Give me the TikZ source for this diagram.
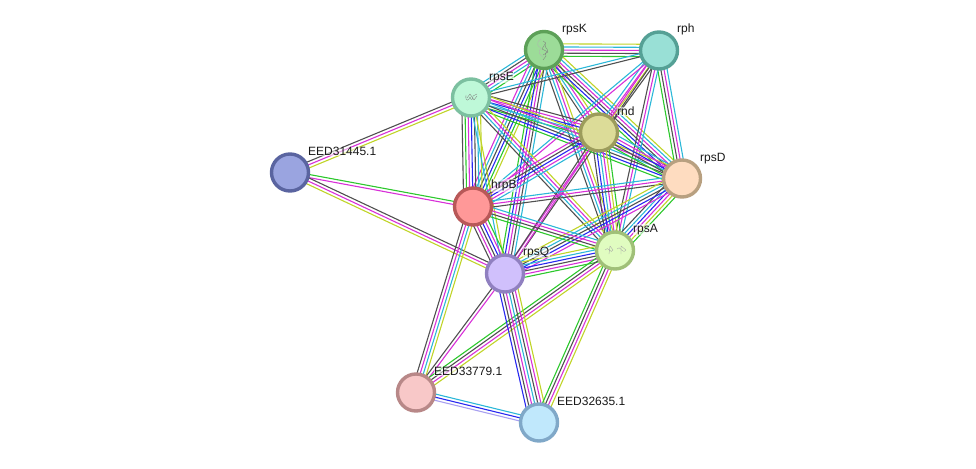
\documentclass[tikz,border=0pt]{standalone}
\usepackage{fontspec}
\setmainfont{Liberation Sans}
\usetikzlibrary{calc}
\pgfdeclarelayer{edges}
\pgfsetlayers{edges,main}
\definecolor{cG}{HTML}{2CC82C}
\definecolor{cC}{HTML}{2CB8D8}
\definecolor{cB}{HTML}{2828F0}
\definecolor{cM}{HTML}{D830D8}
\definecolor{cK}{HTML}{505050}
\definecolor{cY}{HTML}{C0D428}
\definecolor{cL}{HTML}{A8A0F0}
\tikzset{
  G/.style={draw=cG}, C/.style={draw=cC}, B/.style={draw=cB}, M/.style={draw=cM},
  K/.style={draw=cK}, Y/.style={draw=cY}, L/.style={draw=cL},
  prot/.style={circle,minimum size=37pt,inner sep=0pt,line width=3.4pt},
  lab/.style={anchor=west,font=\fontsize{12}{14}\selectfont,text=black!90,fill=white,fill opacity=.55,text opacity=1,inner sep=.5pt},
  fold/.style={draw=black!50,line width=.35pt,line join=round}
}
% A bundle of parallel evidence channels between two proteins;
% later channels lie to the left of the direction of travel
\newcommand{\bundle}[3]{%
  \def\nn{0}%
  \foreach \c in {#3}{\pgfmathtruncatemacro\tmpn{\nn+1}\global\let\nn\tmpn}%
  \foreach \c [count=\i] in {#3}{%
    \pgfmathsetmacro\off{(\i-(\nn+1)/2)*3.1}%
    \draw[\c,line width=1.1pt] ($(#1.center)!\off pt!90:(#2.center)$) -- ($(#2.center)!\off pt!-90:(#1.center)$);
  }%
}
\begin{document}
\begin{tikzpicture}[x=1pt,y=-1pt]
\useasboundingbox (0,0) rectangle (976,468);
% proteins
\node[prot,fill={rgb,255:red,156;green,220;blue,152},draw={rgb,255:red,93;green,160;blue,88}] (rpsK) at (544,50) {};
\node[prot,fill={rgb,255:red,153;green,224;blue,214},draw={rgb,255:red,85;green,160;blue,149}] (rph) at (659,50.5) {};
\node[prot,fill={rgb,255:red,190;green,248;blue,216},draw={rgb,255:red,124;green,192;blue,160}] (rpsE) at (471,97.5) {};
\node[prot,fill={rgb,255:red,220;green,220;blue,152},draw={rgb,255:red,156;green,156;blue,92}] (rnd) at (599,132.5) {};
\node[prot,fill={rgb,255:red,254;green,220;blue,192},draw={rgb,255:red,184;green,160;blue,128}] (rpsD) at (682,178.5) {};
\node[prot,fill={rgb,255:red,154;green,164;blue,224},draw={rgb,255:red,90;green,100;blue,160}] (e31) at (290,172.5) {};
\node[prot,fill={rgb,255:red,255;green,152;blue,152},draw={rgb,255:red,184;green,88;blue,88}] (hrpB) at (473,206.5) {};
\node[prot,fill={rgb,255:red,224;green,252;blue,192},draw={rgb,255:red,160;green,192;blue,120}] (rpsA) at (615,250.5) {};
\node[prot,fill={rgb,255:red,208;green,192;blue,252},draw={rgb,255:red,144;green,128;blue,192}] (rpsQ) at (505,273.5) {};
\node[prot,fill={rgb,255:red,248;green,200;blue,200},draw={rgb,255:red,184;green,136;blue,136}] (e33) at (416,392.5) {};
\node[prot,fill={rgb,255:red,192;green,232;blue,252},draw={rgb,255:red,128;green,168;blue,200}] (e32) at (539,422.5) {};
% structure sketches inside three of the proteins
\draw[fold,draw=black!30] (541,39) .. controls (535,43) and (538,47) .. (541,48) .. controls (537,52) and (540,55) .. (543,57);
\draw[fold] (543,41) .. controls (549,43) and (543,47) .. (547,49) .. controls (550,52) and (543,52) .. (546,56) -- (543,60);
\draw[fold] (545,44) -- (542,49) -- (548,52) -- (543,55);
\draw[fold] (466,95) .. controls (465,102) and (469,101) .. (470,97) .. controls (471,101) and (473,100) .. (473,96) -- (477,94);
\draw[fold] (467,98) -- (470,94) -- (474,100) -- (477,96);
\draw[fold,draw=black!35] (605,250) .. controls (608,245) and (611,255) .. (613,250) -- (610,246) -- (609,254);
\draw[fold,draw=black!35] (617,249) .. controls (620,244) and (622,255) .. (626,250) -- (621,246) -- (621,254);
% interaction channels
\begin{pgfonlayer}{edges}
\bundle{rpsK}{rph}{G,K,M,C,Y}
\bundle{rpsK}{rpsE}{C,K,M,C,G}
\bundle{rpsK}{rnd}{K,C,M,Y}
\bundle{rpsK}{rpsD}{G,B,K,M,C,Y}
\bundle{rpsK}{hrpB}{M,C,K,B,G,Y}
\bundle{rpsK}{rpsA}{K,C,M,Y}
\bundle{rpsK}{rpsQ}{G,B,M,K,C}
\bundle{rpsE}{rph}{K,C}
\bundle{rph}{rnd}{C,M,Y,K}
\bundle{rph}{rpsD}{G,K,M,C}
\bundle{rph}{hrpB}{C,M}
\bundle{rph}{rpsA}{K,M,C}
\bundle{rph}{rpsQ}{M,K}
\bundle{rpsE}{rnd}{G,C,B,M,K}
\bundle{rpsE}{rpsD}{G,B,K,C,M,Y}
\bundle{rpsE}{hrpB}{K,G,M,B,K,C,Y}
\bundle{rpsE}{rpsA}{K,C,M,Y}
\bundle{rpsE}{rpsQ}{C,Y}
\bundle{rnd}{rpsD}{G,K,B,M,C}
\bundle{rnd}{hrpB}{M,K,B,M,C}
\bundle{rnd}{rpsA}{K,B,C,M,Y,G}
\bundle{rnd}{rpsQ}{K,M}
\bundle{hrpB}{rpsD}{K,M,C}
\bundle{rpsD}{rpsA}{K,C,B,M,Y,G}
\bundle{rpsD}{rpsQ}{Y,C,K,B,M}
\bundle{hrpB}{rpsA}{G,K,M,C}
\bundle{hrpB}{rpsQ}{K,M,K,B,M,G}
\bundle{rpsQ}{rpsA}{G,M,K,B,C,Y}
\bundle{e31}{hrpB}{M,G}
\bundle{e31}{rpsE}{Y,M,K}
\bundle{e31}{rpsQ}{Y,M,K}
\bundle{hrpB}{e33}{K,M,C,Y}
\bundle{rpsQ}{e33}{K,M}
\bundle{rpsA}{e33}{G,K,M,Y}
\bundle{rpsQ}{e32}{B,K,M,C,K,M,Y}
\bundle{rpsA}{e32}{G,K,M,Y}
\bundle{e33}{e32}{L,B,C}
\end{pgfonlayer}
% names
\node[lab] (trpsK) at (561.5,29.5) {rpsK};
\node[lab] (trph) at (676.5,29.5) {rph};
\node[lab] (trpsE) at (488.5,77.5) {rpsE};
\node[lab] (trnd) at (616.5,111.5) {rnd};
\node[lab] (trpsD) at (699.5,158.5) {rpsD};
\node[lab] (te31) at (307.5,151.5) {EED31445.1};
\node[lab] (thrpB) at (490.5,185.5) {hrpB};
\node[lab] (trpsA) at (632.5,229.5) {rpsA};
\node[lab] (trpsQ) at (522.5,252.5) {rpsQ};
\node[lab] (te33) at (433.5,371.5) {EED33779.1};
\node[lab] (te32) at (556.5,401.5) {EED32635.1};
\end{tikzpicture}
\end{document}
